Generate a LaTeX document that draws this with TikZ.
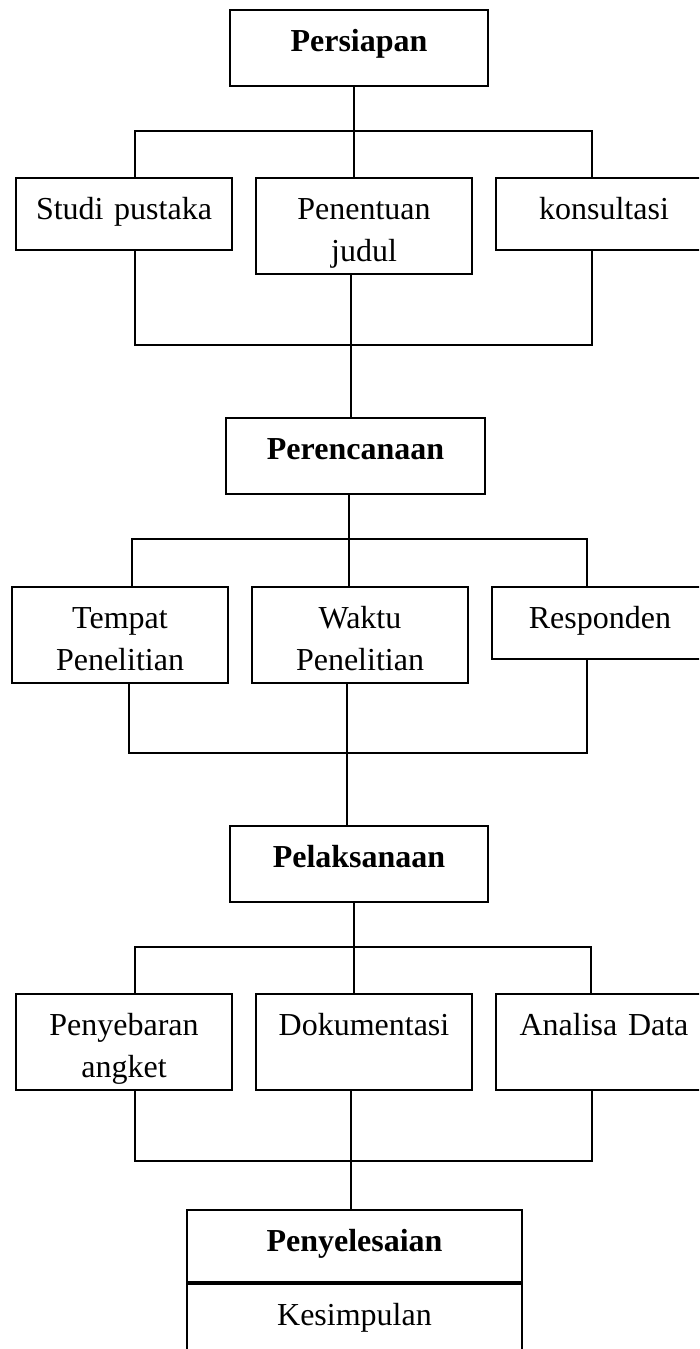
\documentclass[tikz,border=0pt]{standalone}
\usepackage{fontspec}
\setmainfont{Liberation Serif}
\usetikzlibrary{calc}
\tikzset{
  box/.style={draw=black,line width=2pt,anchor=north west,inner xsep=0pt,inner ysep=0pt,
    align=center,text height=41pt,font=\fontsize{32}{42}\selectfont},
  boxS/.style={box,text width=216pt,text depth=31pt},
  boxT/.style={box,text width=216pt,text depth=55pt},
  head/.style={box,font=\fontsize{32}{42}\selectfont\bfseries,text depth=35pt},
  wire/.style={line width=2pt}
}

\begin{document}
\begin{tikzpicture}[x=1pt,y=-1pt]
\clip (0,0) rectangle (699,1349);
% persiapan
\node[head,text width=258pt] (persiapan) at (229,9) {Persiapan};
\node[boxS] (studi) at (15,177) {Studi pustaka};
\node[boxT] (judul) at (255,177) {Penentuan\\judul};
\node[boxS] (konsul) at (495,177) {konsultasi};
\coordinate (a1) at (135,131);
\coordinate (am) at (354,131);
\coordinate (a2) at (592,131);
\draw[wire] (persiapan.south -| am) -- (am);
\draw[wire] (a1 |- studi.north) -- (a1) -- (a2) -- (a2 |- konsul.north);
\draw[wire] (am) -- (am |- judul.north);
\coordinate (b1) at (135,345);
\coordinate (bm) at (351,345);
\coordinate (b2) at (592,345);
\draw[wire] (b1 |- studi.south) -- (b1) -- (b2) -- (b2 |- konsul.south);
% perencanaan
\node[head,text width=259pt] (perenc) at (225,417) {Perencanaan};
\draw[wire] (bm |- judul.south) -- (bm |- perenc.north);
\node[boxT] (tempat) at (11,586) {Tempat\\Penelitian};
\node[boxT] (waktu) at (251,586) {Waktu\\Penelitian};
\node[boxS] (resp) at (491,586) {Responden};
\coordinate (c1) at (132,539);
\coordinate (cm) at (349,539);
\coordinate (c2) at (587,539);
\draw[wire] (perenc.south -| cm) -- (cm);
\draw[wire] (c1 |- tempat.north) -- (c1) -- (c2) -- (c2 |- resp.north);
\draw[wire] (cm) -- (cm |- waktu.north);
\coordinate (d1) at (129,753);
\coordinate (dm) at (347,753);
\coordinate (d2) at (587,753);
\draw[wire] (d1 |- tempat.south) -- (d1) -- (d2) -- (d2 |- resp.south);
% pelaksanaan
\node[head,text width=258pt] (pelak) at (229,825) {Pelaksanaan};
\draw[wire] (dm |- waktu.south) -- (dm |- pelak.north);
\node[boxT] (angket) at (15,993) {Penyebaran\\angket};
\node[boxT] (dokum) at (255,993) {Dokumentasi};
\node[boxT] (analisa) at (495,993) {Analisa Data};
\coordinate (e1) at (135,947);
\coordinate (em) at (354,947);
\coordinate (e2) at (591,947);
\draw[wire] (pelak.south -| em) -- (em);
\draw[wire] (e1 |- angket.north) -- (e1) -- (e2) -- (e2 |- analisa.north);
\draw[wire] (em) -- (em |- dokum.north);
\coordinate (f1) at (135,1161);
\coordinate (fm) at (351,1161);
\coordinate (f2) at (592,1161);
\draw[wire] (f1 |- angket.south) -- (f1) -- (f2) -- (f2 |- analisa.south);
% penyelesaian
\node[head,text width=335pt,text depth=31pt] (penyel) at (186,1209) {Penyelesaian};
\node[box,text width=335pt,text depth=45pt] (simpul) at (penyel.south west) {Kesimpulan};
\draw[wire] (fm |- dokum.south) -- (fm |- penyel.north);
\end{tikzpicture}
\end{document}
